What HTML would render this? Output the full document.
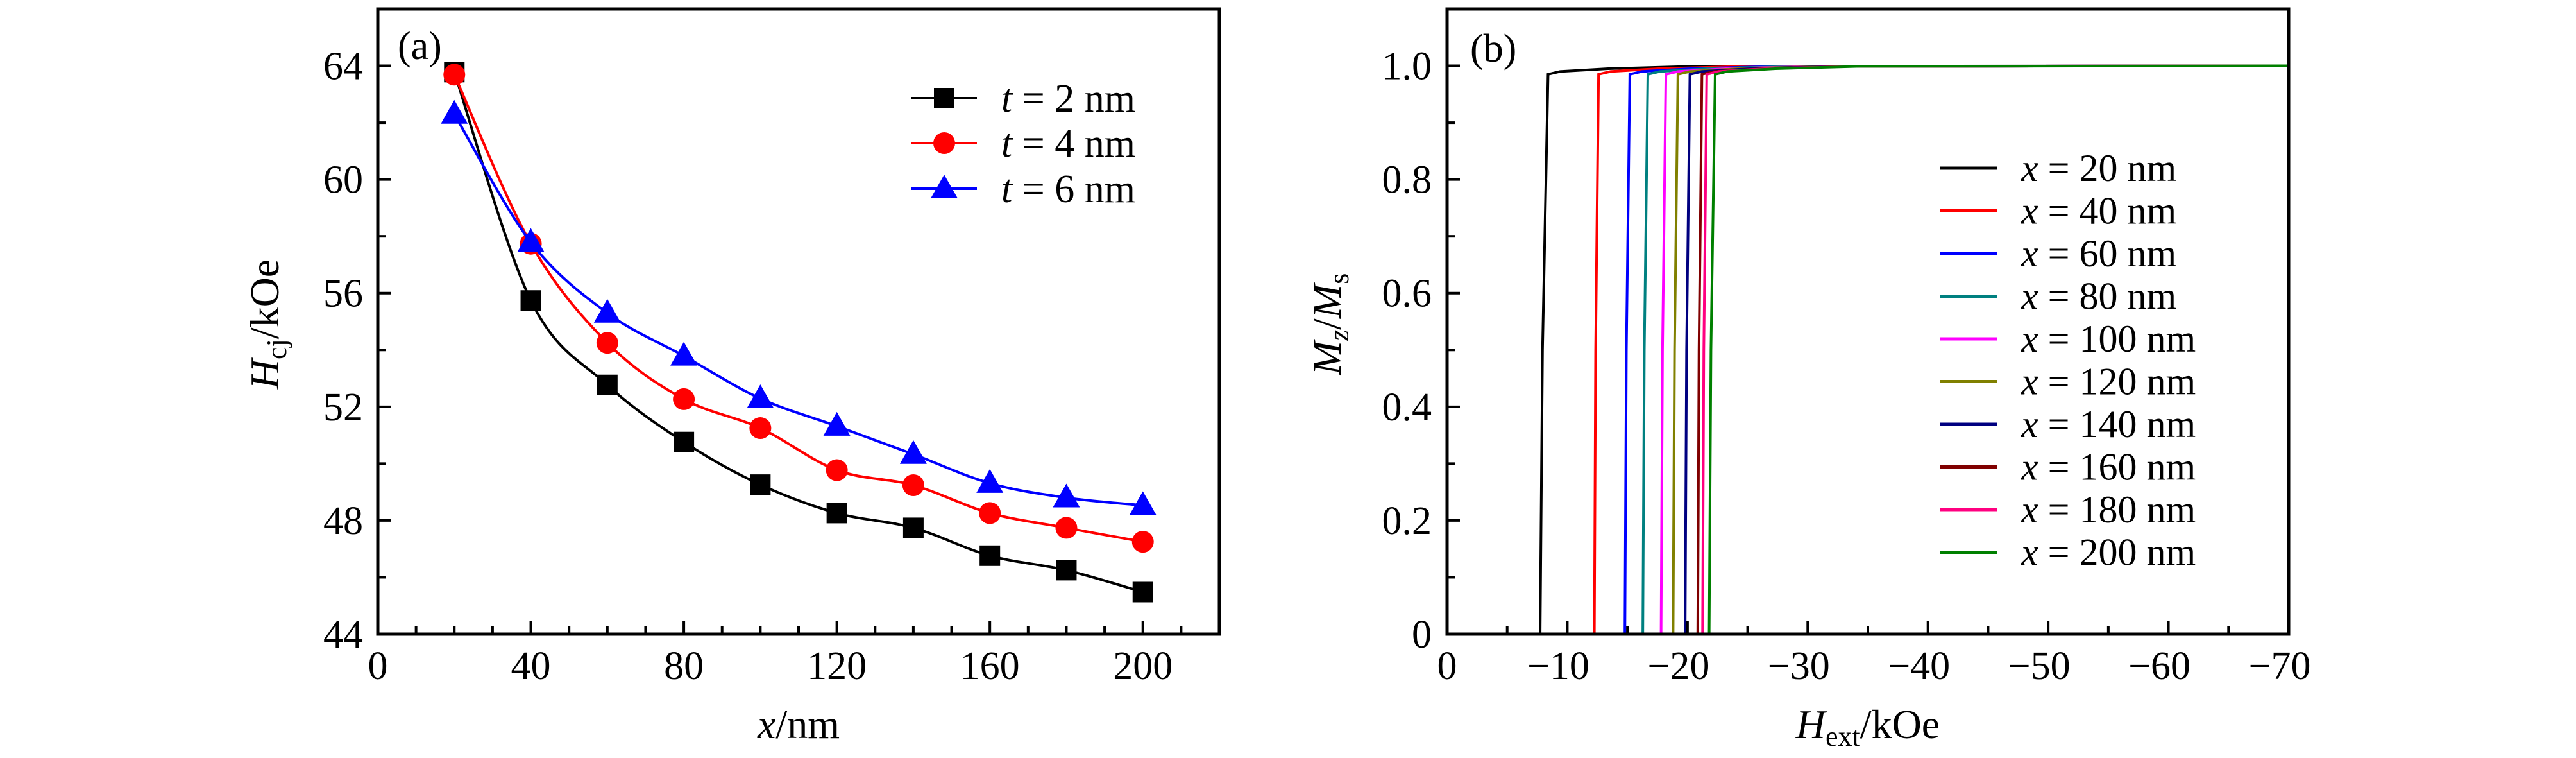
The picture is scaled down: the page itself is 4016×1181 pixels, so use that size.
<!DOCTYPE html>
<html><head><meta charset="utf-8"><style>
html,body{margin:0;padding:0;background:#fff}
svg{display:block}
text{font-family:"Liberation Serif",serif;fill:#000}
</style></head><body>
<svg id="fig" width="4016" height="1181" viewBox="0 0 4016 1181" xmlns="http://www.w3.org/2000/svg">
<g id="pa"></g>
<g id="pb"></g>
</svg>
<script>
// Panel (a) data
const aX = [20,40,60,80,100,120,140,160,180,200];
const aT2 = [63.78,55.74,52.77,50.76,49.26,48.26,47.74,46.76,46.25,45.48];
const aT4 = [63.69,57.74,54.25,52.27,51.25,49.77,49.24,48.26,47.74,47.25];
const aT6 = [62.3,57.79,55.3,53.79,52.29,51.32,50.33,49.31,48.8,48.53];
const aXTicks = [0,40,80,120,160,200];
const aYTicks = [44,48,52,56,60,64];
const aLegend = ["2","4","6"];
// Panel (b) data: switching fields (kOe, magnitude) per thickness x
const bSeries = ["20","40","60","80","100","120","140","160","180","200"];
const bHswitch = [7.74,12.25,14.79,16.28,17.8,18.8,19.8,20.85,21.25,21.8];
const bHtop = [8.4,12.6,15.2,16.7,18.2,19.2,20.2,21.2,21.6,22.3];
const bXTicks = [0,-10,-20,-30,-40,-50,-60,-70];
const bYTicks = [0,0.2,0.4,0.6,0.8,1.0];
const bColors = ["#000","#f00","#00f","#008080","#f0f","#808000","#000080","#800000","#ff0080","#008000"];

const NS="http://www.w3.org/2000/svg";
function mk(tag,attrs,parent){const e=document.createElementNS(NS,tag);for(const k in attrs)e.setAttribute(k,attrs[k]);parent.appendChild(e);return e;}

// ---------- Panel a ----------
const pa=document.getElementById('pa');
const A={l:589,r:1901,t:14,b:988};
const ax=v=>A.l+(v-0)/220*(A.r-A.l);
const ay=v=>A.b-(v-44)/22*(A.b-A.t);
function spline(xs,ys,fx,fy){
  const p=xs.map((x,i)=>[fx(x),fy(ys[i])]);
  let d=`M${p[0][0]},${p[0][1]}`;
  for(let i=0;i<p.length-1;i++){
    const p0=p[Math.max(0,i-1)],p1=p[i],p2=p[i+1],p3=p[Math.min(p.length-1,i+2)];
    const c1=[p1[0]+(p2[0]-p0[0])/6,p1[1]+(p2[1]-p0[1])/6];
    const c2=[p2[0]-(p3[0]-p1[0])/6,p2[1]-(p3[1]-p1[1])/6];
    d+=` C${c1[0]},${c1[1]} ${c2[0]},${c2[1]} ${p2[0]},${p2[1]}`;
  }
  return d;
}
const aSeries=[[aT2,"#000","sq"],[aT4,"#f00","ci"],[aT6,"#00f","tr"]];
function marker(type,x,y,col,parent){
  let m;
  if(type==="sq") m=mk('rect',{x:x-16,y:y-16,width:32,height:32,fill:col},parent);
  else if(type==="ci") m=mk('circle',{cx:x,cy:y,r:17,fill:col},parent);
  else m=mk('polygon',{points:`${x},${y-22} ${x+21},${y+15} ${x-21},${y+15}`,fill:col},parent);
  return m;
}
aSeries.forEach((s,si)=>{
  const g=mk('g',{},pa);
  
  
  const path=mk('path',{d:spline(aX,s[0],ax,ay),fill:'none',stroke:s[1],'stroke-width':4},g);
  
  
  aX.forEach((x,i)=>{
    const m=marker(s[2],ax(x),ay(s[0][i]),s[1],g);
    
    
  });
});
// axes a
function frame(parent,B){
  const r=mk('rect',{x:B.l,y:B.t,width:B.r-B.l,height:B.b-B.t,fill:'none',stroke:'#000','stroke-width':5},parent);
  
  
}
frame(pa,A);
for(let v=0;v<=220;v+=10){const big=v%40===0;mk('line',{x1:ax(v),x2:ax(v),y1:A.b,y2:A.b-(big?20:13),stroke:'#000','stroke-width':4},pa);}
for(let v=44;v<=66;v+=2){const big=v%4===0;mk('line',{x1:A.l,x2:A.l+(big?20:13),y1:ay(v),y2:ay(v),stroke:'#000','stroke-width':4},pa);}
aXTicks.forEach(v=>{const t=mk('text',{x:ax(v),y:1058,'font-size':62,'text-anchor':'middle'},pa);t.textContent=v;
  
  });
aYTicks.forEach(v=>{const t=mk('text',{x:566,y:ay(v)+21,'font-size':62,'text-anchor':'end'},pa);t.textContent=v;
  
  });
{const t=mk('text',{x:1245,y:1150,'font-size':64,'text-anchor':'middle'},pa);
 t.innerHTML='<tspan font-style="italic">x</tspan>/nm';
 
 }
{const t=mk('text',{x:0,y:0,'font-size':64,'text-anchor':'middle',transform:'translate(434,505) rotate(-90)'},pa);
 t.innerHTML='<tspan font-style="italic">H</tspan><tspan font-size="44" dy="12">cj</tspan><tspan dy="-12">/kOe</tspan>';
 
 }
{const t=mk('text',{x:620,y:92,'font-size':62},pa);t.textContent='(a)';
 
 }
const aLegY=[153,223,294];
aSeries.forEach((s,i)=>{
  const g=mk('g',{},pa);
  
  
  mk('line',{x1:1420,x2:1523,y1:aLegY[i],y2:aLegY[i],stroke:s[1],'stroke-width':4},g);
  marker(s[2],1472,aLegY[i],s[1],g);
  const t=mk('text',{x:1561,y:aLegY[i]+21,'font-size':62},g);
  t.innerHTML='<tspan font-style="italic">t</tspan> = '+aLegend[i]+' nm';
});

// ---------- Panel b ----------
const pb=document.getElementById('pb');
const B={l:2256,r:3568,t:14,b:988};
const bx=v=>B.l+(-v)/70*(B.r-B.l);
const by=v=>B.b-v/1.1*(B.b-B.t);
bSeries.forEach((s,i)=>{
  const hs=bHswitch[i],ht=bHtop[i];
  const pts=[[-hs,0],[-(hs+(ht-hs)*0.3),0.5],[-ht,0.985],[-(ht+1),0.99],[-(ht+5),0.995],[-(ht+12),0.999],[-70,1.0]];
  const d='M'+pts.map(p=>bx(p[0])+','+by(p[1])).join(' L');
  const p=mk('path',{d:d,fill:'none',stroke:bColors[i],'stroke-width':4},pb);
  
  
});
frame(pb,B);
for(let v=0;v>=-70;v-=5){const big=v%10===0;mk('line',{x1:bx(v),x2:bx(v),y1:B.b,y2:B.b-(big?20:13),stroke:'#000','stroke-width':4},pb);}
for(let k=0;k<=11;k++){const v=k/10;const big=k%2===0;mk('line',{x1:B.l,x2:B.l+(big?20:13),y1:by(v),y2:by(v),stroke:'#000','stroke-width':4},pb);}
bXTicks.forEach(v=>{const t=mk('text',{x:bx(v)-(v<0?14:0),y:1058,'font-size':62,'text-anchor':'middle'},pb);t.textContent=(v<0?'\u2212'+(-v):v);
  
  });
bYTicks.forEach(v=>{const t=mk('text',{x:2232,y:by(v)+21,'font-size':62,'text-anchor':'end'},pb);t.textContent=(v===0?'0':v.toFixed(1));
  
  });
{const t=mk('text',{x:2912,y:1150,'font-size':64,'text-anchor':'middle'},pb);
 t.innerHTML='<tspan font-style="italic">H</tspan><tspan font-size="44" dy="12">ext</tspan><tspan dy="-12">/kOe</tspan>';
 
 }
{const t=mk('text',{x:0,y:0,'font-size':64,'text-anchor':'middle',transform:'translate(2090,505) rotate(-90)'},pb);
 t.innerHTML='<tspan font-style="italic">M</tspan><tspan font-size="44" dy="12" font-style="italic">z</tspan><tspan dy="-12">/</tspan><tspan font-style="italic">M</tspan><tspan font-size="44" dy="12">s</tspan>';
 
 }
{const t=mk('text',{x:2292,y:96,'font-size':62},pb);t.textContent='(b)';
 
 }
bSeries.forEach((s,i)=>{
  const y=262+i*66.5;
  const g=mk('g',{},pb);
  
  
  mk('line',{x1:3025,x2:3113,y1:y,y2:y,stroke:bColors[i],'stroke-width':5},g);
  const t=mk('text',{x:3151,y:y+20,'font-size':60},g);
  t.innerHTML='<tspan font-style="italic">x</tspan> = '+s+' nm';
});
</script>
</body></html>
